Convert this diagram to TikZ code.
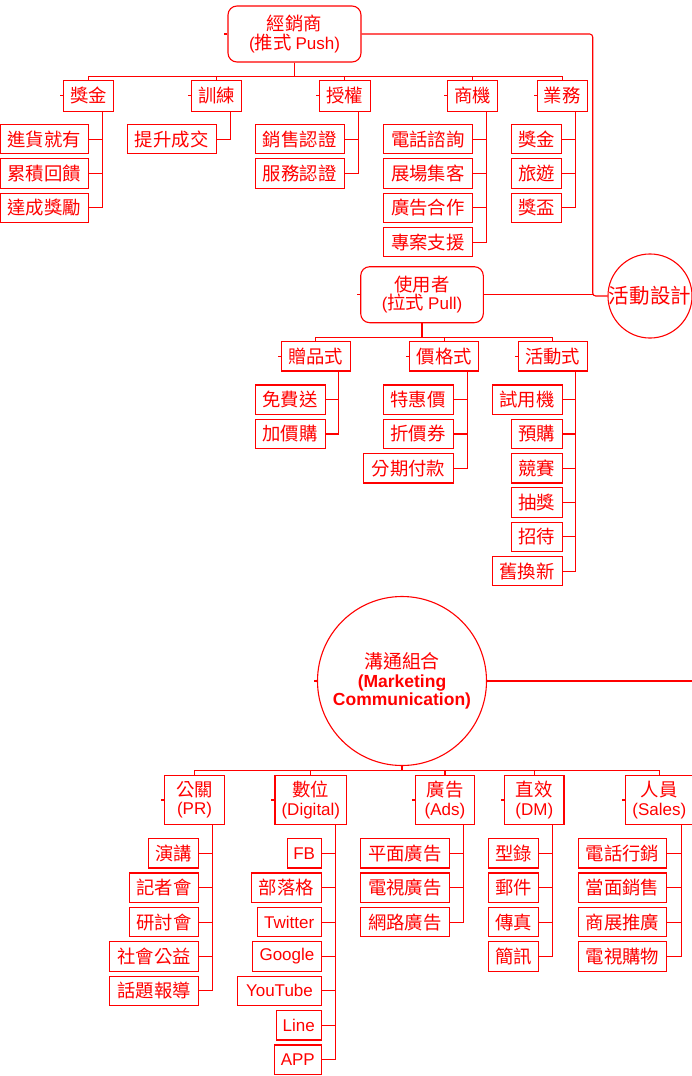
\documentclass[tikz,border=0pt]{standalone}
\usepackage{fontspec}
\setmainfont{Liberation Sans}
\newfontfamily\cjk[Scale=1.08]{Noto Sans CJK TC}
\newcommand\La[1]{{\rmfamily #1}}
\tikzset{
  ln/.style={draw=red, line width=1.1pt},
  bx/.style={draw=red, text=red, line width=1.1pt, inner sep=0pt,
    minimum height=29.4pt, font=\fontsize{17}{18.5}\selectfont\cjk},
  lv/.style={bx, minimum height=30.3pt},
  lvb/.style={bx, minimum height=48.6pt, align=center},
  rbx/.style={bx, rounded corners=9pt, align=center},
  cir/.style={draw=red, text=red, line width=1.1pt, circle, inner sep=0pt, align=center}
}
\begin{document}
\begin{tikzpicture}[x=1pt,y=-1pt]
\useasboundingbox (0,0) rectangle (692,1076);
% ---------- Push ----------
\node[rbx, minimum width=133pt, minimum height=56pt] (push) at (294.5,34) {經銷商\\\La{(}推式 \La{Push)}};
\node[lv,minimum width=50.4pt] (jj) at (88.5,95.9) {獎金};
\node[lv,minimum width=50pt] (xl) at (216.7,95.9) {訓練};
\node[lv,minimum width=50.7pt] (sq) at (344.7,95.9) {授權};
\node[lv,minimum width=50pt] (sj) at (472.7,95.9) {商機};
\node[lv,minimum width=50pt] (yw) at (562.3,95.9) {業務};
\foreach \c in {jj,xl,sq,sj,yw} \draw[ln] (push.south) -- ++(0,14) -| (\c.north);

\node[bx,anchor=east,minimum width=88.2pt] (a1) at (88.7,139.2) {進貨就有};
\node[bx,anchor=east,minimum width=88.2pt] (a2) at (88.7,173.5) {累積回饋};
\node[bx,anchor=east,minimum width=88.2pt] (a3) at (88.7,207.8) {達成獎勵};
\node[bx,anchor=east,minimum width=89pt] (b1) at (216.7,139.2) {提升成交};
\node[bx,anchor=east,minimum width=89pt] (c1) at (344.7,139.2) {銷售認證};
\node[bx,anchor=east,minimum width=89pt] (c2) at (344.7,173.5) {服務認證};
\node[bx,anchor=east,minimum width=89.3pt] (d1) at (473,139.2) {電話諮詢};
\node[bx,anchor=east,minimum width=89.3pt] (d2) at (473,173.5) {展場集客};
\node[bx,anchor=east,minimum width=89.3pt] (d3) at (473,207.8) {廣告合作};
\node[bx,anchor=east,minimum width=89.3pt] (d4) at (473,242.1) {專案支援};
\node[bx,anchor=east,minimum width=50.6pt] (e1) at (562.3,139.2) {獎金};
\node[bx,anchor=east,minimum width=50.6pt] (e2) at (562.3,173.5) {旅遊};
\node[bx,anchor=east,minimum width=50.6pt] (e3) at (562.3,207.8) {獎盃};
\foreach \c in {a1,a2,a3} \draw[ln] ([xshift=-12pt]jj.south east) |- (\c.east);
\draw[ln] ([xshift=-12pt]xl.south east) |- (b1.east);
\foreach \c in {c1,c2} \draw[ln] ([xshift=-12pt]sq.south east) |- (\c.east);
\foreach \c in {d1,d2,d3,d4} \draw[ln] ([xshift=-12pt]sj.south east) |- (\c.east);
\foreach \c in {e1,e2,e3} \draw[ln] ([xshift=-12pt]yw.south east) |- (\c.east);

% ---------- activity circle ----------
\node[cir, minimum size=81pt, font=\fontsize{19}{20}\selectfont\cjk] (act) at (650,296) {活動設計};
\coordinate (cr) at (592.7,296);
\draw[ln, rounded corners=3pt] (push.east) -| (cr) -- (act.west);

% ---------- Pull ----------
\node[rbx, minimum width=122.6pt, minimum height=56pt] (user) at (422,294.7) {使用者\\\La{(}拉式 \La{Pull)}};
\draw[ln] (user.east) -- (user.east -| cr);
\node[bx,minimum width=69pt] (zp) at (315.8,356.3) {贈品式};
\node[bx,minimum width=69pt] (jg) at (444.2,356.3) {價格式};
\node[bx,minimum width=69pt] (hs) at (552.8,356.3) {活動式};
\foreach \c in {zp,jg,hs} \draw[ln] (user.south) -- ++(0,14) -| (\c.north);

\node[bx,anchor=east,minimum width=70pt] (f1) at (325.7,399.7) {免費送};
\node[bx,anchor=east,minimum width=70pt] (f2) at (325.7,434.0) {加價購};
\node[bx,anchor=east,minimum width=70pt] (g1) at (453.7,399.7) {特惠價};
\node[bx,anchor=east,minimum width=70pt] (g2) at (453.7,434.0) {折價券};
\node[bx,anchor=east,minimum width=89.4pt] (g3) at (453.7,468.3) {分期付款};
\node[bx,anchor=east,minimum width=70pt] (h1) at (562.7,399.7) {試用機};
\node[bx,anchor=east,minimum width=50.7pt] (h2) at (562.7,434.0) {預購};
\node[bx,anchor=east,minimum width=50.7pt] (h3) at (562.7,468.3) {競賽};
\node[bx,anchor=east,minimum width=50.7pt] (h4) at (562.7,502.6) {抽獎};
\node[bx,anchor=east,minimum width=50.7pt] (h5) at (562.7,536.9) {招待};
\node[bx,anchor=east,minimum width=70pt] (h6) at (562.7,571.2) {舊換新};
\foreach \c in {f1,f2} \draw[ln] ([xshift=-12pt]zp.south east) |- (\c.east);
\foreach \c in {g1,g2,g3} \draw[ln] ([xshift=-12pt]jg.south east) |- (\c.east);
\foreach \c in {h1,h2,h3,h4,h5,h6} \draw[ln] ([xshift=-12pt]hs.south east) |- (\c.east);

% ---------- Marketing communication ----------
\node[cir, minimum size=169pt, font=\fontsize{17.5}{18.5}\selectfont\bfseries] (mc) at (402,681)
  {{\cjk\mdseries 溝通組合}\\(Marketing\\Communication)};
\coordinate (mcr) at (692,681);
\draw[ln] (mc.east) -- (mcr);

\node[lvb,minimum width=59.6pt] (gg) at (194.5,800) {公關\\\La{(PR)}};
\node[lvb,minimum width=71.7pt] (sw) at (310.85,800) {數位\\\La{(Digital)}};
\node[lvb,minimum width=59.4pt] (ad) at (445,800) {廣告\\\La{(Ads)}};
\node[lvb,minimum width=59.3pt] (dm) at (534.35,800) {直效\\\La{(DM)}};
\node[lvb,minimum width=67.3pt] (ry) at (659.35,800) {人員\\\La{(Sales)}};
\foreach \c in {gg,sw,ad,dm,ry} \draw[ln] (mc.south) -- ++(0,4.5) -| (\c.north);

\node[bx,anchor=east,minimum width=50.3pt] (p1) at (199.3,853.3) {演講};
\node[bx,anchor=east,minimum width=69.6pt] (p2) at (199.3,887.7) {記者會};
\node[bx,anchor=east,minimum width=69.6pt] (p3) at (199.3,922.1) {研討會};
\node[bx,anchor=east,minimum width=89pt] (p4) at (199.3,956.5) {社會公益};
\node[bx,anchor=east,minimum width=89pt] (p5) at (199.3,990.9) {話題報導};

\node[bx,anchor=east,minimum width=34pt] (q1) at (321.7,853.3) {\La{FB}};
\node[bx,anchor=east,minimum width=69.4pt] (q2) at (321.7,887.7) {部落格};
\node[bx,anchor=east,minimum width=64pt] (q3) at (321.7,922.1) {\La{Twitter}};
\node[bx,anchor=east,minimum width=68.4pt] (q4) at (321.7,956.5) {\La{Google}};
\node[bx,anchor=east,minimum width=83.4pt] (q5) at (321.7,990.9) {\La{YouTube}};
\node[bx,anchor=east,minimum width=45pt] (q6) at (321.7,1025.3) {\La{Line}};
\node[bx,anchor=east,minimum width=46.7pt] (q7) at (321.7,1059.7) {\La{APP}};

\node[bx,anchor=east,minimum width=88.4pt] (r1) at (449.7,853.3) {平面廣告};
\node[bx,anchor=east,minimum width=88.4pt] (r2) at (449.7,887.7) {電視廣告};
\node[bx,anchor=east,minimum width=88.4pt] (r3) at (449.7,922.1) {網路廣告};

\node[bx,anchor=east,minimum width=50pt] (s1) at (539.3,853.3) {型錄};
\node[bx,anchor=east,minimum width=50pt] (s2) at (539.3,887.7) {郵件};
\node[bx,anchor=east,minimum width=50pt] (s3) at (539.3,922.1) {傳真};
\node[bx,anchor=east,minimum width=50pt] (s4) at (539.3,956.5) {簡訊};

\node[bx,anchor=east,minimum width=88.6pt] (t1) at (667.3,853.3) {電話行銷};
\node[bx,anchor=east,minimum width=88.6pt] (t2) at (667.3,887.7) {當面銷售};
\node[bx,anchor=east,minimum width=88.6pt] (t3) at (667.3,922.1) {商展推廣};
\node[bx,anchor=east,minimum width=88.6pt] (t4) at (667.3,956.5) {電視購物};

\foreach \c in {p1,p2,p3,p4,p5} \draw[ln] ([xshift=-12pt]gg.south east) |- (\c.east);
\foreach \c in {q1,q2,q3,q4,q5,q6,q7} \draw[ln] ([xshift=-12pt]sw.south east) |- (\c.east);
\foreach \c in {r1,r2,r3} \draw[ln] ([xshift=-12pt]ad.south east) |- (\c.east);
\foreach \c in {s1,s2,s3,s4} \draw[ln] ([xshift=-12pt]dm.south east) |- (\c.east);
\foreach \c in {t1,t2,t3,t4} \draw[ln] ([xshift=-12pt]ry.south east) |- (\c.east);

% small ticks at left of group boxes
\foreach \n in {push,jj,xl,sq,sj,yw,user,zp,jg,hs,mc,gg,sw,ad,dm,ry} \draw[ln] (\n.west) -- ++(-3,0);
\end{tikzpicture}
\end{document}
